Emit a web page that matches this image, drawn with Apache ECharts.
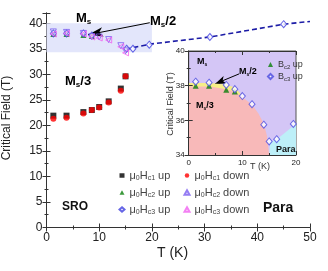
<!DOCTYPE html>
<html><head><meta charset="utf-8">
<script src="https://cdn.jsdelivr.net/npm/echarts@6/dist/echarts.min.js"></script>
<style>html,body{margin:0;padding:0;background:#fff}#c{width:328px;height:271px}</style>
</head><body><div id="c"></div>
<script>
// ---- main panel data ----
const tempsMain = [1.3, 3.8, 7, 8.6, 10, 11.8, 14.1, 15];
const hc1Up   = [21.9, 21.9, 22.6, 23.0, 23.6, 24.7, 27.2, 29.6];
const hc1Down = [21.3, 21.5, 22.3, 23.0, 23.5, 24.5, 26.8, 29.6];
const hc2UpT  = [1.3, 3.8, 7, 8.6];
const hc2Up   = [37.9, 37.9, 37.7, 37.5];
const hc3UpT  = [1.3, 3.8, 7, 8.6, 15.2, 16.4, 19.5, 31, 45];
const hc3Up   = [38.0, 38.0, 38.0, 37.6, 35.0, 35.0, 35.8, 37.3, 39.8];
const hc2Down = [38.3, 38.2, 38.0, 37.4, 37.3, 36.8, 35.6, 34.6];
const hc3Down = [37.9, 38.0, 37.9, 37.3, 37.1, 36.7, 35.4, 34.2];
const fitT    = [15, 19.6, 31, 45, 50];
const fitB    = [34.9, 35.9, 37.3, 39.8, 40.35];
const shadeT  = [0, 20];
const shadeB  = [34.3, 40];
const xTicksMain = [0, 10, 20, 30, 40, 50];
const yTicksMain = [0, 5, 10, 15, 20, 25, 30, 35, 40];
// ---- inset data ----
const insetBc2T = [1.3, 3.8, 7, 8.6];
const insetBc2  = [38.0, 38.0, 37.77, 37.66];
const insetBc3T = [1.3, 3.8, 7, 8.6, 10, 11.8, 14, 15, 16.4, 19.5];
const insetBc3  = [38.23, 38.17, 38.04, 37.8, 37.4, 36.93, 35.75, 34.78, 34.91, 35.79];
const yellowRegion = [[0,38.15],[4,38.15],[7,38.05],[8.6,37.9],[9.6,37.55],[9.6,34],[0,34]];
const pinkRegion = [[0,37.95],[4,37.95],[7,37.8],[8.6,37.65],[10,37.35],[11.8,36.9],[13,36.4],[14,35.8],[14.6,35.1],[15,34],[0,34]];
const cyanRegion = [[15,34],[15.2,34.75],[16.4,34.9],[20,35.8],[20,34]];

const zip = (a,b)=>a.map((v,i)=>[v,b[i]]);
const FONT = '"Liberation Sans", Arial, sans-serif';

const legRich = {
  t:{fontSize:11, fontFamily:FONT, color:'#444', lineHeight:13},
  s:{fontSize:7, fontFamily:FONT, color:'#444', verticalAlign:'bottom', lineHeight:6}
};
const legFmt = {
  'Hc1 up':'{t|μ}{s|0}{t|H}{s|c1}{t| up}',
  'Hc2 up':'{t|μ}{s|0}{t|H}{s|c2}{t| up}',
  'Hc3 up':'{t|μ}{s|0}{t|H}{s|c3}{t| up}',
  'Hc1 down':'{t|μ}{s|0}{t|H}{s|c1}{t| down}',
  'Hc2 down':'{t|μ}{s|0}{t|H}{s|c2}{t| down}',
  'Hc3 down':'{t|μ}{s|0}{t|H}{s|c3}{t| down}',
  'Bc2 up':'{u|B}{v|c2}{u| up}',
  'Bc3 up':'{u|B}{v|c3}{u| up}'
};

function polySeries(pts, color, z){
  return {type:'custom', xAxisIndex:2, yAxisIndex:2, data:pts, silent:true, z:z,
    encode:{x:0,y:1}, clip:false,
    renderItem:function(params, api){
      if (params.dataIndex !== 0) return null;
      return {type:'polygon', shape:{points: pts.map(p=>api.coord(p))}, style:{fill:color}};
    }};
}

function boldLabel(x,y,main,sub,rest,size){
  size = size||13;
  return {type:'text', left:x, top:y, z:50, style:{
    text:'{a|'+main+'}{b|'+sub+'}'+(rest?'{a|'+rest+'}':''),
    rich:{a:{fontSize:size, fontWeight:'bold', fontFamily:FONT, color:'#111', lineHeight:size+2},
          b:{fontSize:Math.round(size*0.6), fontWeight:'bold', fontFamily:FONT, color:'#111', verticalAlign:'bottom', lineHeight:5}}
  }};
}

const axisCommon = (grid, pos, min, max, interval, labels, fs) => ({
  gridIndex:grid, position:pos, type:'value', min:min, max:max, interval:interval,
  axisLine:{show:true, lineStyle:{color:'#333', width:1}},
  axisTick:{show:true, inside:true, length:4, lineStyle:{color:'#333'}},
  minorTick:{show:true, splitNumber:2, length:2, lineStyle:{color:'#333'}},
  splitLine:{show:false},
  axisLabel:{show:labels, fontSize:fs, color:'#222', fontFamily:FONT, margin:4, showMaxLabel: (max%interval===0)}
});

const option = {
  animation:false,
  grid:[
    {left:46.5, right:18, top:13, bottom:43.5, show:false},
    {left:188.7, right:32, top:51, bottom:116, show:true, backgroundColor:'#d4c6f6', borderColor:'#555', borderWidth:1, z:3}
  ],
  xAxis:[
    axisCommon(0,'bottom',0,50,10,true,12),
    axisCommon(0,'top',0,50,10,false,12),
    Object.assign(axisCommon(1,'bottom',0,20,10,true,8),{z:20}),
    Object.assign(axisCommon(1,'top',0,20,10,false,8),{z:20})
  ],
  yAxis:[
    axisCommon(0,'left',0,42,5,true,12),
    axisCommon(0,'right',0,42,5,false,12),
    Object.assign(axisCommon(1,'left',34,40,2,true,8),{z:20}),
    Object.assign(axisCommon(1,'right',34,40,2,false,8),{z:20})
  ],
  legend:[
    {orient:'vertical', left:113.5, top:165, itemWidth:5, itemHeight:4.5, itemGap:5, itemTextGap:8,
     data:['Hc1 up','Hc2 up','Hc3 up'], formatter:n=>legFmt[n], textStyle:{rich:legRich}, selectedMode:false},
    {orient:'vertical', left:178.5, top:165, itemWidth:5, itemHeight:4.5, itemGap:5, itemTextGap:9,
     data:['Hc1 down','Hc2 down','Hc3 down'], formatter:n=>legFmt[n], textStyle:{rich:legRich}, selectedMode:false},
    {orient:'vertical', left:262, top:55, itemWidth:5, itemHeight:5, itemGap:2, itemTextGap:6, z:30,
     data:['Bc2 up','Bc3 up'], formatter:n=>legFmt[n], selectedMode:false,
     textStyle:{rich:{u:{fontSize:9, fontFamily:FONT, color:'#333', lineHeight:11},
                      v:{fontSize:6, fontFamily:FONT, color:'#333', verticalAlign:'bottom', lineHeight:5}}}}
  ],
  series:[
    {name:'fit', type:'line', xAxisIndex:0, yAxisIndex:0, data:zip(fitT,fitB), showSymbol:false, symbol:'none',
     lineStyle:{color:'#1c1ca6', width:1.6, type:[5,3]}, z:2, silent:true,
     markArea:{silent:true, itemStyle:{color:'#e3e6fb'},
       data:[[{coord:[shadeT[0],shadeB[0]]},{coord:[shadeT[1],shadeB[1]]}]]},
     markLine:{silent:true, symbol:['arrow','none'], symbolSize:[7,15], label:{show:false},
       lineStyle:{color:'#000', width:1, type:'solid'},
       data:[[{coord:[7.9,37.75]},{coord:[19.6,40.1]}]]}},
    {name:'Hc1 up', type:'scatter', xAxisIndex:0, yAxisIndex:0, data:zip(tempsMain,hc1Up),
     symbol:'rect', symbolSize:6, itemStyle:{color:'#000'}, z:3},
    {name:'Hc1 down', type:'scatter', xAxisIndex:0, yAxisIndex:0, data:zip(tempsMain,hc1Down),
     symbol:'circle', symbolSize:6, itemStyle:{color:'#f00'}, z:4},
    {name:'Hc2 up', type:'scatter', xAxisIndex:0, yAxisIndex:0, data:zip(hc2UpT,hc2Up),
     symbol:'triangle', symbolSize:6, itemStyle:{color:'#0a800a'}, z:3},
    {name:'Hc3 up', type:'scatter', xAxisIndex:0, yAxisIndex:0, data:zip(hc3UpT,hc3Up),
     symbol:'diamond', symbolSize:[6,7], itemStyle:{color:'#fff', borderColor:'#3f3fe0', borderWidth:1}, z:5},
    {name:'Hc2 down', type:'scatter', xAxisIndex:0, yAxisIndex:0, data:zip(tempsMain,hc2Down),
     symbol:'triangle', symbolRotate:180, symbolSize:6, itemStyle:{color:'rgba(255,255,255,0)', borderColor:'#7a5cf0', borderWidth:1}, z:6},
    {name:'Hc3 down', type:'scatter', xAxisIndex:0, yAxisIndex:0, data:zip(tempsMain,hc3Down),
     symbol:'triangle', symbolRotate:90, symbolSize:6, itemStyle:{color:'rgba(255,255,255,0)', borderColor:'#f060f0', borderWidth:1}, z:6},
    polySeries(yellowRegion,'#f6ee86',10),
    polySeries(pinkRegion,'#f8b9b9',11),
    polySeries(cyanRegion,'#bdeff8',11),
    {name:'Bc2 up', type:'scatter', xAxisIndex:2, yAxisIndex:2, data:zip(insetBc2T,insetBc2),
     symbol:'triangle', symbolSize:6, itemStyle:{color:'#0a800a'}, z:14},
    {name:'Bc3 up', type:'scatter', xAxisIndex:2, yAxisIndex:2, data:zip(insetBc3T,insetBc3),
     symbol:'diamond', symbolSize:[6,7], itemStyle:{color:'#fff', borderColor:'#4a4ae0', borderWidth:1}, z:15,
     markLine:{silent:true, symbol:['none','arrow'], symbolSize:[6,11], label:{show:false},
       lineStyle:{color:'#000', width:1, type:'solid'},
       data:[[{coord:[9.4,38.68]},{coord:[4.9,38.1]}]]}}
  ],
  graphic:[
    boldLabel(76,12,'M','s','',13),
    boldLabel(150,15,'M','s','/2',13),
    boldLabel(65,75,'M','s','/3',13),
    {type:'text', left:62, top:201, style:{text:'SRO', fontSize:12, fontWeight:'bold', fontFamily:FONT, fill:'#111'}},
    {type:'text', left:263, top:201, style:{text:'Para', fontSize:14, fontWeight:'bold', fontFamily:FONT, fill:'#111'}},
    {type:'text', left:157, top:246, style:{text:'T (K)', fontSize:14, fontFamily:FONT, fill:'#222'}},
    {type:'text', x:7, y:118, rotation:Math.PI/2, style:{text:'Critical Field (T)', fontSize:12, fontFamily:FONT, fill:'#222', align:'center', verticalAlign:'middle'}},
    boldLabel(197,57,'M','s','',9),
    boldLabel(239,67,'M','s','/2',9),
    boldLabel(196,101,'M','s','/3',9),
    {type:'text', left:276, top:145, z:50, style:{text:'Para', fontSize:9, fontWeight:'bold', fontFamily:FONT, fill:'#111'}},
    {type:'text', left:250, top:162, z:50, style:{text:'T (K)', fontSize:9, fontFamily:FONT, fill:'#333'}},
    {type:'text', x:171, y:104, rotation:Math.PI/2, z:50, style:{text:'Critical Field (T)', fontSize:9, fontFamily:FONT, fill:'#333', align:'center', verticalAlign:'middle'}}
  ]
};
const chart = echarts.init(document.getElementById('c'), null, {renderer:'canvas'});
chart.setOption(option);
</script></body></html>
